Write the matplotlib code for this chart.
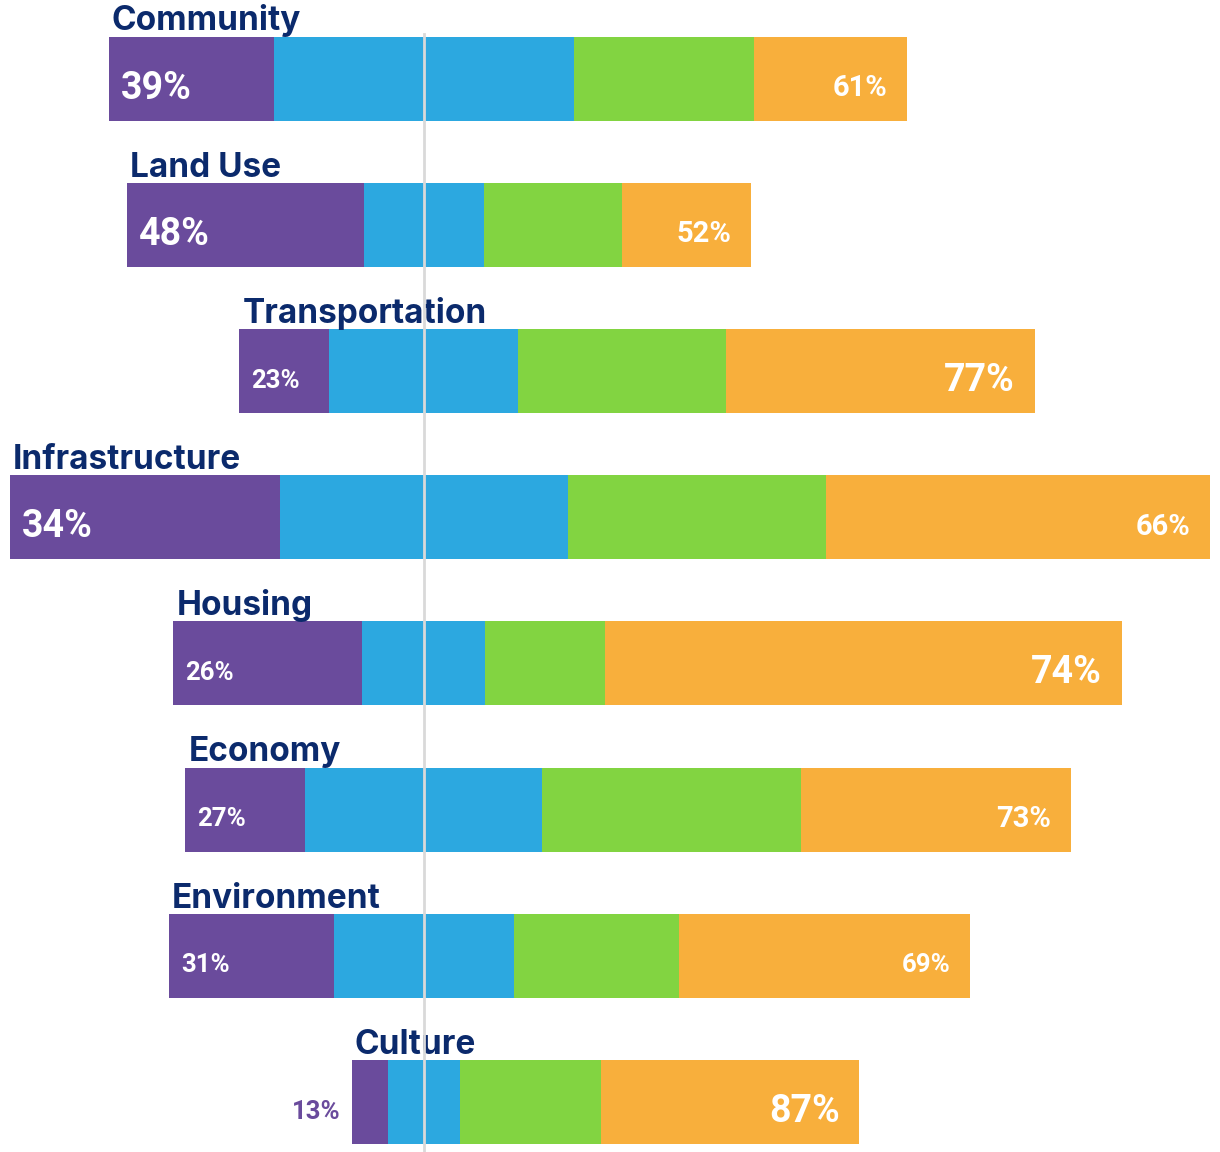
import matplotlib
matplotlib.use("Agg")
from matplotlib import pyplot as plt

# categories top to bottom
categories = ["Community", "Land Use", "Transportation", "Infrastructure",
              "Housing", "Economy", "Environment", "Culture"]

# response counts per segment (purple, blue = neutral, green, orange)
purple = [55, 79, 30, 90, 63, 40, 55, 12]
blue = [100, 40, 63, 96, 41, 79, 60, 24]
green = [60, 46, 69, 86, 40, 86, 55, 47]
orange = [51, 43, 103, 128, 172, 90, 97, 86]

left_labels = ["39%", "48%", "23%", "34%", "26%", "27%", "31%", "13%"]
right_labels = ["61%", "52%", "77%", "66%", "74%", "73%", "69%", "87%"]
left_sizes = [27, 27, 18.5, 27, 18.5, 18.5, 18.5, 18.5]
right_sizes = [21, 21, 27, 21, 27, 21, 18.5, 27]

colors = ["#6a4b9c", "#2ca8e0", "#82d441", "#f8af3c"]
navy = "#0b2a6c"

fig = plt.figure(figsize=(12.2, 11.52), dpi=100)
ax = fig.add_axes([0, 0, 1, 1])

bar_h = 0.575
for i, cat in enumerate(categories):
    # neutral segment is split evenly around zero
    start = -purple[i] - blue[i] / 2
    x = start
    for val, col in zip([purple[i], blue[i], green[i], orange[i]], colors):
        ax.barh(i, val, left=x, height=bar_h, color=col, linewidth=0)
        x += val
    end = x

    # category name above the bar
    ax.text(start + 1, i - bar_h / 2 - 0.042, cat, ha="left", va="baseline",
            fontsize=24, fontweight="bold", color=navy, family="Inter")

    # percentages
    if purple[i] < 20:
        ax.text(start - 3.7, i + 0.065, left_labels[i], ha="right", va="center",
                fontsize=left_sizes[i], fontweight="bold", color=colors[0],
                family="Roboto")
    else:
        ax.text(start + 4.0, i + 0.065, left_labels[i], ha="left", va="center",
                fontsize=left_sizes[i], fontweight="bold", color="white",
                family="Roboto")
    ax.text(end - 6.5, i + 0.065, right_labels[i], ha="right", va="center",
            fontsize=right_sizes[i], fontweight="bold", color="white",
            family="Roboto")

ax.axvline(0, ymin=0, ymax=0.9705, color="#d9d9d9", linewidth=2, zorder=5)

ax.set_xlim(-141.3, 265.3)
ax.set_ylim(7.342, -0.5376)
ax.axis("off")

plt.savefig("out.png", dpi=100)
plt.close()
